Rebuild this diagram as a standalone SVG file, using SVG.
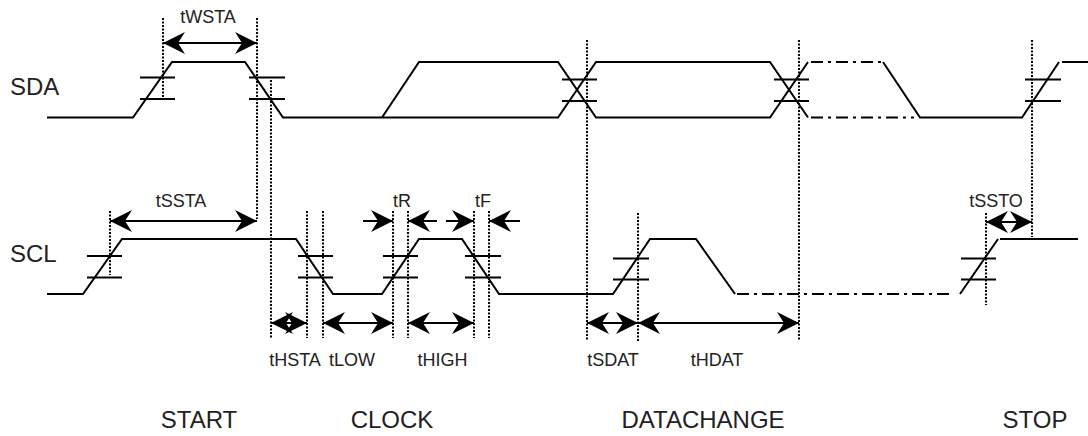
<svg xmlns="http://www.w3.org/2000/svg" width="1088" height="436" viewBox="0 0 1088 436">
<style>
.w{fill:none;stroke:#000;stroke-width:2;stroke-linejoin:miter}
.dd{fill:none;stroke:#000;stroke-width:2;stroke-dasharray:12 5 3 5}
.tk{stroke:#000;stroke-width:2}
.dot{stroke:#000;stroke-width:2;stroke-dasharray:2 1.5}
.ar{stroke:#000;stroke-width:2;marker-end:url(#ah)}
.ar2{stroke:#000;stroke-width:2;marker-start:url(#ah);marker-end:url(#ah)}
.t{font-family:"Liberation Sans",Arial,sans-serif;fill:#222}
.s{font-size:18px;text-anchor:middle}
.b{font-size:24px}
.c{text-anchor:middle}
</style>
<defs>
<marker id="ah" markerUnits="userSpaceOnUse" markerWidth="24" markerHeight="24" refX="22" refY="11" orient="auto-start-reverse" viewBox="0 0 24 24" overflow="visible">
<path d="M22,11 L0,0 L7,11 L0,22 Z" fill="#000"/>
</marker>
</defs>

<g id="SDA">
<text class="t b" x="10" y="95">SDA</text>
<polyline class="w" points="47,117.5 133,117.5 172,62 245,62 283,117.5 558,117.5 596,62 770,62 808,117.5"/>
<polyline class="w" points="382,117.5 419,62 558,62 596,117.5 770,117.5 808,62"/>
<line class="dd" x1="811" y1="62" x2="883" y2="62"/>
<line class="dd" x1="811" y1="117.5" x2="914" y2="117.5"/>
<polyline class="w" points="883,62 920,117.5 1022,117.5 1059,62"/>
<line class="w" x1="1062" y1="62" x2="1088" y2="62"/>
<g id="sda-ticks">
<line class="tk" x1="140" y1="77.5" x2="175" y2="77.5"/><line class="tk" x1="140" y1="99" x2="175" y2="99"/>
<line class="tk" x1="249" y1="77.5" x2="285" y2="77.5"/><line class="tk" x1="249" y1="99" x2="285" y2="99"/>
<line class="tk" x1="562" y1="79.5" x2="597" y2="79.5"/><line class="tk" x1="562" y1="101" x2="597" y2="101"/>
<line class="tk" x1="774" y1="79.5" x2="809" y2="79.5"/><line class="tk" x1="774" y1="101" x2="809" y2="101"/>
<line class="tk" x1="1025" y1="79.5" x2="1061" y2="79.5"/><line class="tk" x1="1025" y1="101" x2="1061" y2="101"/>
</g>
</g>

<g id="SCL">
<text class="t b" x="10" y="262">SCL</text>
<polyline class="w" points="47,294 83,294 122,239 296,239 333,294 382,294 419,239 462,239 499,294 613,294 650,239 696,239 735,294"/>
<line class="dd" x1="737" y1="294" x2="952" y2="294"/>
<line class="w" x1="960" y1="294" x2="998" y2="239"/>
<line class="w" x1="1000" y1="239" x2="1078" y2="239"/>
<g id="scl-ticks">
<line class="tk" x1="87" y1="256" x2="122" y2="256"/><line class="tk" x1="87" y1="277.5" x2="122" y2="277.5"/>
<line class="tk" x1="298" y1="256" x2="333" y2="256"/><line class="tk" x1="298" y1="277.5" x2="333" y2="277.5"/>
<line class="tk" x1="383" y1="256" x2="418" y2="256"/><line class="tk" x1="383" y1="277.5" x2="418" y2="277.5"/>
<line class="tk" x1="465" y1="256" x2="501" y2="256"/><line class="tk" x1="465" y1="277.5" x2="501" y2="277.5"/>
<line class="tk" x1="613" y1="258.5" x2="649" y2="258.5"/><line class="tk" x1="613" y1="279.5" x2="649" y2="279.5"/>
<line class="tk" x1="961" y1="258.5" x2="996" y2="258.5"/><line class="tk" x1="961" y1="279.5" x2="996" y2="279.5"/>
</g>
</g>

<g id="guides">
<line class="dot" x1="163" y1="18" x2="163" y2="97"/>
<line class="dot" x1="257" y1="18" x2="257" y2="219"/>
<line class="dot" x1="271" y1="80" x2="271" y2="338"/>
<line class="dot" x1="110" y1="211" x2="110" y2="275"/>
<line class="dot" x1="307" y1="211" x2="307" y2="338"/>
<line class="dot" x1="323" y1="211" x2="323" y2="338"/>
<line class="dot" x1="393" y1="211" x2="393" y2="338"/>
<line class="dot" x1="408" y1="211" x2="408" y2="338"/>
<line class="dot" x1="474" y1="211" x2="474" y2="338"/>
<line class="dot" x1="489" y1="211" x2="489" y2="338"/>
<line class="dot" x1="587" y1="40" x2="587" y2="341"/>
<line class="dot" x1="638" y1="213" x2="638" y2="341"/>
<line class="dot" x1="799" y1="40" x2="799" y2="341"/>
<line class="dot" x1="986" y1="213" x2="986" y2="305"/>
<line class="dot" x1="1032" y1="40" x2="1032" y2="237"/>
</g>

<g id="connectors">
<line class="ar2" x1="163" y1="43" x2="257" y2="43"/>
<line class="ar2" x1="110" y1="221" x2="257" y2="221"/>
<line class="ar" x1="363" y1="221" x2="393" y2="221"/>
<line class="ar" x1="437" y1="221" x2="408" y2="221"/>
<line class="ar" x1="446" y1="221" x2="474" y2="221"/>
<line class="ar" x1="520" y1="221" x2="489" y2="221"/>
<line class="ar2" x1="986" y1="222" x2="1032" y2="222"/>
<line class="ar2" x1="271" y1="323" x2="307" y2="323"/>
<line class="ar2" x1="323" y1="323" x2="393" y2="323"/>
<line class="ar2" x1="408" y1="323" x2="474" y2="323"/>
<line class="ar2" x1="587" y1="323" x2="638" y2="323"/>
<line class="ar2" x1="638" y1="323" x2="799" y2="323"/>
</g>

<g id="timing-labels">
<text class="t s" x="208" y="23">tWSTA</text>
<text class="t s" x="181" y="207">tSSTA</text>
<text class="t s" x="402" y="207">tR</text>
<text class="t s" x="483" y="207">tF</text>
<text class="t s" x="996" y="207">tSSTO</text>
<text class="t s" x="295" y="366">tHSTA</text>
<text class="t s" x="352" y="366">tLOW</text>
<text class="t s" x="442.5" y="366">tHIGH</text>
<text class="t s" x="613" y="366">tSDAT</text>
<text class="t s" x="717" y="366">tHDAT</text>
</g>

<g id="phases">
<text class="t b c" x="199" y="428">START</text>
<text class="t b c" x="392" y="428">CLOCK</text>
<text class="t b c" x="703" y="428">DATACHANGE</text>
<text class="t b c" x="1035" y="428">STOP</text>
</g>
</svg>
